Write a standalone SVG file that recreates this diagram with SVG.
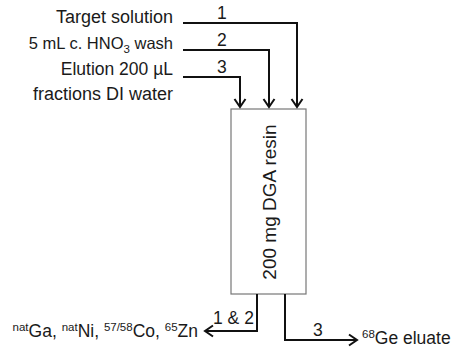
<svg xmlns="http://www.w3.org/2000/svg" width="454" height="348" viewBox="0 0 454 348">
<style>
text{font-family:"Liberation Sans",Arial,sans-serif;font-size:17.5px;fill:#1a1a1a}
.r{text-anchor:end}
.c{text-anchor:middle}
.ln{fill:none;stroke:#111;stroke-width:2}
.sup{font-size:11.5px}
</style>
<defs>
<marker id="ah" markerUnits="userSpaceOnUse" markerWidth="14" markerHeight="14" viewBox="0 0 14 14" refX="12" refY="7" orient="auto">
<path d="M4,1.5 L12,7 L4,12.5" fill="none" stroke="#111" stroke-width="2"/>
</marker>
</defs>
<rect width="454" height="348" fill="#fff"/>
<g id="inputs">
<text class="r" x="173" y="23" style="font-size:18px">Target solution</text>
<text class="r" x="173" y="49" style="font-size:16.5px">5 mL c. HNO<tspan class="sup" dy="4">3</tspan><tspan dy="-4"> wash</tspan></text>
<text class="r" x="173" y="75">Elution 200 µL</text>
<text class="r" x="173" y="100" style="font-size:18px">fractions DI water</text>
</g>
<g id="column">
<rect x="231" y="109" width="75" height="185" fill="#fff" stroke="#777" stroke-width="1.2"/>
<text class="c" transform="translate(276,202) rotate(-90)" style="font-size:19px">200 mg DGA resin</text>
</g>
<g id="outputs">
<text class="r" x="198" y="337"><tspan class="sup" dy="-6">nat</tspan><tspan dy="6">Ga, </tspan><tspan class="sup" dy="-6">nat</tspan><tspan dy="6">Ni, </tspan><tspan class="sup" dy="-6">57/58</tspan><tspan dy="6">Co, </tspan><tspan class="sup" dy="-6">65</tspan><tspan dy="6">Zn</tspan></text>
<text x="362" y="344"><tspan class="sup" dy="-6">68</tspan><tspan dy="6">Ge eluate</tspan></text>
</g>
<g id="connectors">
<path class="ln" d="M183,23 H297 V107" marker-end="url(#ah)"/>
<path class="ln" d="M183,50 H269 V107" marker-end="url(#ah)"/>
<path class="ln" d="M183,77 H240 V107" marker-end="url(#ah)"/>
<path class="ln" d="M257,294 V331 H205" marker-end="url(#ah)"/>
<path class="ln" d="M285,294 V340 H357" marker-end="url(#ah)"/>
<text x="217" y="19">1</text>
<text x="217" y="46">2</text>
<text x="217" y="73">3</text>
<text x="213" y="324">1 &amp; 2</text>
<text x="313" y="336">3</text>
</g>
</svg>
